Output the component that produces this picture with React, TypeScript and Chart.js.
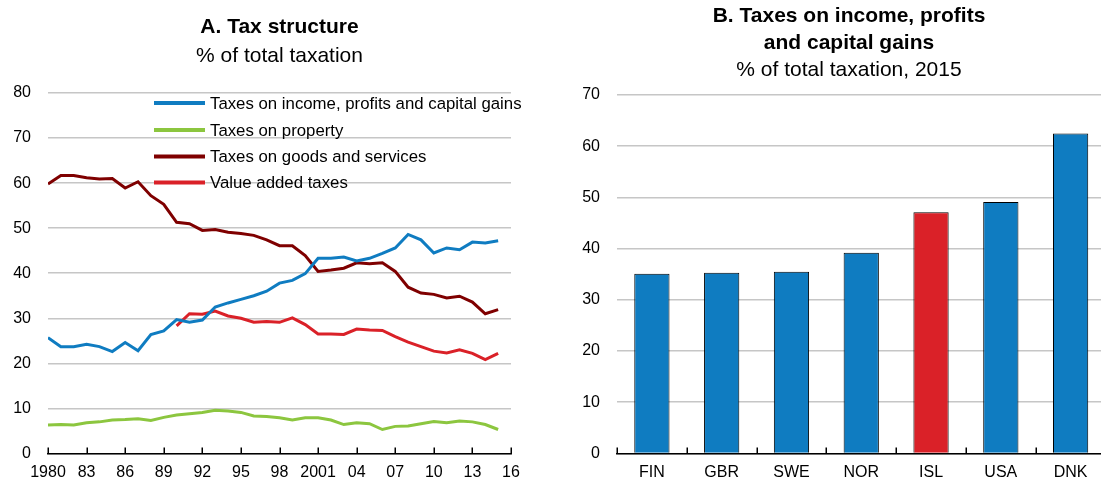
import React, { useEffect, useRef } from "react";
import { Chart, registerables } from "chart.js";

Chart.register(...registerables);

const FONT = "'Liberation Sans', Arial, Helvetica, sans-serif";

// ---------- Panel A data ----------
const years = [
  1980, 1981, 1982, 1983, 1984, 1985, 1986, 1987, 1988, 1989,
  1990, 1991, 1992, 1993, 1994, 1995, 1996, 1997, 1998, 1999,
  2000, 2001, 2002, 2003, 2004, 2005, 2006, 2007, 2008, 2009,
  2010, 2011, 2012, 2013, 2014, 2015,
];
const incomeTaxes = [
  25.7, 23.7, 23.7, 24.2, 23.7, 22.6, 24.6, 22.8, 26.4, 27.2,
  29.7, 29.1, 29.6, 32.5, 33.4, 34.2, 35.0, 36.0, 37.8, 38.4,
  39.9, 43.3, 43.3, 43.6, 42.7, 43.3, 44.4, 45.6, 48.6, 47.4,
  44.5, 45.6, 45.2, 46.9, 46.7, 47.2,
];
const propertyTaxes = [
  6.3, 6.4, 6.3, 6.8, 7.0, 7.4, 7.5, 7.7, 7.3, 8.0,
  8.5, 8.8, 9.1, 9.6, 9.4, 9.1, 8.3, 8.2, 7.9, 7.4,
  7.9, 7.9, 7.4, 6.4, 6.8, 6.6, 5.3, 6.0, 6.1, 6.6,
  7.1, 6.8, 7.2, 7.0, 6.4, 5.3,
];
const goodsServicesTaxes = [
  59.8, 61.7, 61.7, 61.2, 60.9, 61.0, 58.9, 60.3, 57.2, 55.3,
  51.3, 51.0, 49.5, 49.7, 49.1, 48.8, 48.4, 47.4, 46.1, 46.1,
  43.9, 40.4, 40.7, 41.1, 42.3, 42.1, 42.3, 40.4, 36.9, 35.6,
  35.3, 34.5, 34.9, 33.6, 31.0, 31.9,
];
const valueAddedTaxes = [
  null, null, null, null, null, null, null, null, null, null,
  28.3, 31.0, 30.9, 31.6, 30.5, 30.0, 29.1, 29.3, 29.1, 30.1,
  28.6, 26.5, 26.5, 26.4, 27.6, 27.4, 27.3, 25.9, 24.7, 23.7,
  22.7, 22.3, 23.0, 22.2, 20.8, 22.2,
];
const seriesNames = [
  "Taxes on income, profits and capital gains",
  "Taxes on property",
  "Taxes on goods and services",
  "Value added taxes",
];
const seriesColors = ["#0F7CC1", "#8CC63F", "#7F0000", "#DA2128"];

// ---------- Panel B data ----------
const countries = ["FIN", "GBR", "SWE", "NOR", "ISL", "USA", "DNK"];
const incomeShare2015 = [35.1, 35.3, 35.5, 39.2, 47.1, 49.1, 62.5];
const highlightCountry = "ISL";

type TitleLine = { text: string; bold: boolean; size: number; y: number };

const makeTitlePlugin = (lines: TitleLine[], centerX?: number) => ({
  id: "customTitles",
  afterDraw(chart: any) {
    const { ctx, chartArea } = chart;
    const cx = centerX !== undefined ? centerX : (chartArea.left + chartArea.right) / 2;
    ctx.save();
    ctx.fillStyle = "#000";
    ctx.textAlign = "center";
    ctx.textBaseline = "alphabetic";
    lines.forEach((l) => {
      ctx.font = `${l.bold ? "bold " : ""}${l.size}px ${FONT}`;
      ctx.fillText(l.text, cx, l.y);
    });
    ctx.restore();
  },
});

// inward tick marks on the x axis
const makeInwardTicks = (mode: "ticks" | "bounds") => ({
  id: "inwardTicks",
  afterDraw(chart: any) {
    const { ctx, chartArea } = chart;
    const xs = chart.scales.x;
    const positions: number[] = [];
    if (mode === "ticks") {
      xs.ticks.forEach((t: any) => positions.push(xs.getPixelForValue(t.value)));
    } else {
      const n = chart.data.labels.length;
      for (let i = 0; i <= n; i++) positions.push(xs.getPixelForValue(i - 0.5));
    }
    const y = chartArea.bottom;
    ctx.save();
    ctx.strokeStyle = "#000";
    ctx.lineWidth = 1.5;
    positions.forEach((p) => {
      const x = Math.round(p) + 0.25;
      ctx.beginPath();
      ctx.moveTo(x, y);
      ctx.lineTo(x, y - 6);
      ctx.stroke();
    });
    ctx.restore();
  },
});

const legendPlugin = {
  id: "insideLegend",
  afterDatasetsDraw(chart: any) {
    const { ctx, chartArea } = chart;
    const x0 = chartArea.left + 106;
    const x1 = x0 + 51;
    const rows = [103, 130, 156.5, 182.5];
    ctx.save();
    chart.data.datasets.forEach((ds: any, i: number) => {
      const y = rows[i];
      ctx.strokeStyle = ds.borderColor;
      ctx.lineWidth = 4;
      ctx.lineCap = "butt";
      ctx.beginPath();
      ctx.moveTo(x0, y);
      ctx.lineTo(x1, y);
      ctx.stroke();
      ctx.fillStyle = "#000";
      ctx.font = `16.8px ${FONT}`;
      ctx.textAlign = "left";
      ctx.textBaseline = "middle";
      ctx.fillText(ds.label, x1 + 5, y + 1);
    });
    ctx.restore();
  },
};

function LineChart() {
  const ref = useRef<HTMLCanvasElement>(null);
  useEffect(() => {
    if (!ref.current) return;
    const series = [incomeTaxes, propertyTaxes, goodsServicesTaxes, valueAddedTaxes];
    const chart = new Chart(ref.current, {
      type: "line",
      data: {
        datasets: series.map((s, i) => ({
          label: seriesNames[i],
          data: years.map((yr, j) => ({ x: yr, y: s[j] as any })),
          borderColor: seriesColors[i],
          backgroundColor: seriesColors[i],
          borderWidth: 3,
          pointRadius: 0,
          tension: 0,
          spanGaps: false,
        })),
      },
      options: {
        animation: false,
        responsive: false,
        maintainAspectRatio: false,
        layout: { padding: { top: 93, right: 34, left: 0, bottom: 0 } },
        plugins: {
          legend: { display: false },
          tooltip: { enabled: false },
          title: { display: false },
        },
        scales: {
          x: {
            type: "linear",
            min: 1980,
            max: 2016,
            afterFit: (s: any) => {
              s.height = 25;
            },
            ticks: {
              stepSize: 3,
              autoSkip: false,
              maxRotation: 0,
              padding: 10,
              color: "#000",
              font: { family: FONT, size: 16 },
              callback: (v: any) => {
                const n = Number(v);
                return n === 1980 || n === 2001 ? String(n) : String(n).slice(2);
              },
            },
            grid: { display: false, drawTicks: false },
            border: { display: true, color: "#000", width: 1.5 },
          },
          y: {
            min: 0,
            max: 80,
            afterFit: (s: any) => {
              s.width = 48;
            },
            ticks: {
              stepSize: 10,
              padding: 17,
              color: "#000",
              font: { family: FONT, size: 16 },
            },
            grid: { color: "#C6C6C6", lineWidth: 1.5, drawTicks: false },
            border: { display: false },
          },
        },
      },
      plugins: [
        makeTitlePlugin([
          { text: "A. Tax structure", bold: true, size: 21, y: 33 },
          { text: "% of total taxation", bold: false, size: 21, y: 62 },
        ]),
        legendPlugin,
        makeInwardTicks("ticks"),
      ],
    } as any);
    return () => chart.destroy();
  }, []);
  return <canvas ref={ref} width={545} height={480} style={{ display: "block" }} />;
}

function BarChart() {
  const ref = useRef<HTMLCanvasElement>(null);
  useEffect(() => {
    if (!ref.current) return;
    const chart = new Chart(ref.current, {
      type: "bar",
      data: {
        labels: countries,
        datasets: [
          {
            label: "Taxes on income, profits and capital gains",
            data: incomeShare2015,
            backgroundColor: countries.map((c) => (c === highlightCountry ? "#DA2128" : "#0F7CC1")),
            borderColor: "#000",
            borderWidth: 1,
            barPercentage: 0.505,
            categoryPercentage: 1,
          },
        ],
      },
      options: {
        animation: false,
        responsive: false,
        maintainAspectRatio: false,
        layout: { padding: { top: 95, right: 4.5, left: 0, bottom: 0 } },
        plugins: {
          legend: { display: false },
          tooltip: { enabled: false },
          title: { display: false },
        },
        scales: {
          x: {
            afterFit: (s: any) => {
              s.height = 26;
            },
            ticks: {
              padding: 10,
              color: "#000",
              font: { family: FONT, size: 16 },
            },
            grid: { display: false, drawTicks: false, offset: true },
            border: { display: true, color: "#000", width: 1.5 },
          },
          y: {
            min: 0,
            max: 70,
            afterFit: (s: any) => {
              s.width = 57;
            },
            ticks: {
              stepSize: 10,
              padding: 17,
              color: "#000",
              font: { family: FONT, size: 16 },
            },
            grid: { color: "#C6C6C6", lineWidth: 1.5, drawTicks: false },
            border: { display: false },
          },
        },
      },
      plugins: [
        makeTitlePlugin(
          [
            { text: "B. Taxes on income, profits", bold: true, size: 21, y: 22 },
            { text: "and capital gains", bold: true, size: 21, y: 49 },
            { text: "% of total taxation, 2015", bold: false, size: 21, y: 76 },
          ],
          289
        ),
        makeInwardTicks("bounds"),
      ],
    } as any);
    return () => chart.destroy();
  }, []);
  return <canvas ref={ref} width={550} height={480} style={{ display: "block" }} />;
}

export default function App() {
  return (
    <div
      style={{
        position: "fixed",
        left: 0,
        top: 0,
        width: 1101,
        height: 480,
        background: "#fff",
        overflow: "hidden",
      }}
    >
      <div style={{ position: "absolute", left: 0, top: 0, width: 545, height: 480 }}>
        <LineChart />
      </div>
      <div
        style={{ position: "absolute", left: 560, top: 0, width: 541, height: 480, overflow: "hidden" }}
      >
        <BarChart />
      </div>
    </div>
  );
}
